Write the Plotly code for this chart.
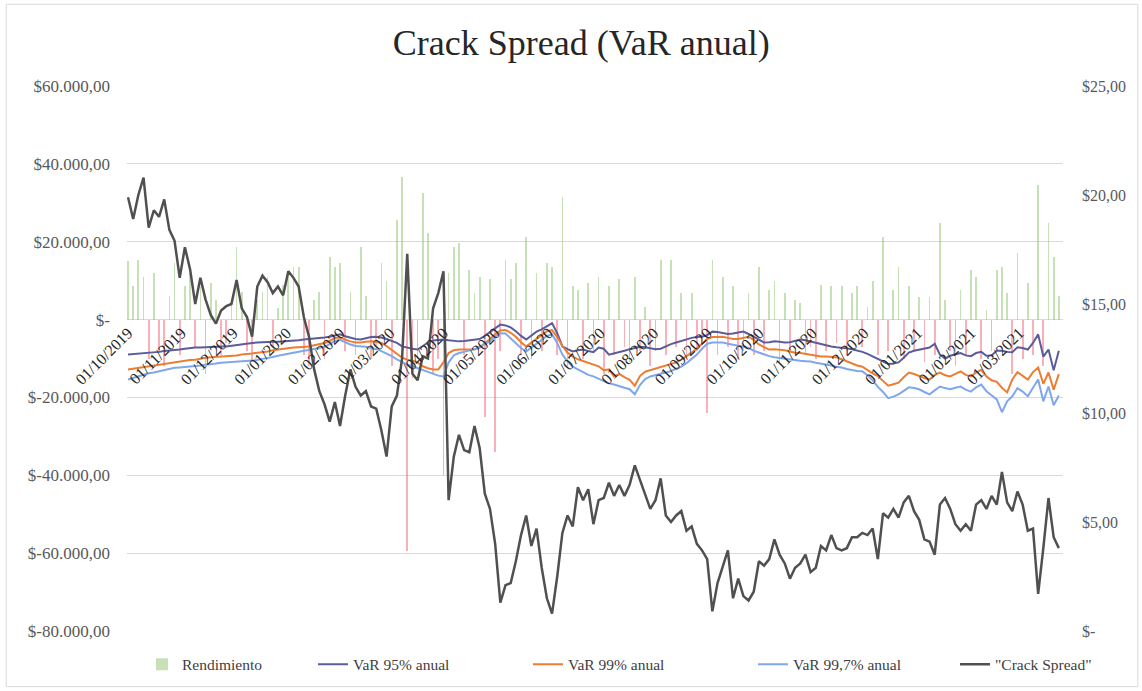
import pandas as pd
import plotly.graph_objects as go

# ---------------- data ----------------
start_date = "2019-10-01"
n_obs = 181
fechas = pd.date_range(start_date, periods=n_obs, freq="3D")

rendimiento = [
    15000, 8500, 15400, 11000, -10000, 12000, -8000, -12000, 6000, 14600,
    -9000, 8500, 12000, -7000, 8500, -14000, 9500, 5000, -9000, -6000,
    5000, 18700, 7000, -8000, -11000, 5000, 7000, 11000, -7000, 3000,
    9000, 12000, 13600, 13600, -9000, -12000, 5000, 7000, -10000, 16200,
    13600, 14600, -8000, 7000, -9000, 18700, 6000, -10000, -7000, 14600,
    10000, -12000, 25600, 36600, -59500, -15000, -10000, 32500, 22300, -14000,
    -10000, -40000, 12000, 18700, 19700, -9000, 12800, 6900, 11000, -25000,
    10300, -34000, -8000, 15400, 10300, 14600, -9000, 21300, -10000, 12000,
    -8000, 14600, 13600, -9000, 31500, -12000, 8500, 7700, -10000, 9400,
    -8000, 11000, -14000, 8500, -9000, 10300, -7000, -11000, 11000, -8000,
    3300, -12000, -8000, 15400, -9000, 15400, -7000, 6900, -10000, 6900,
    -8000, -6000, -24000, 15400, -9000, 11000, -7000, 8500, -10000, -8000,
    6900, -9000, 13600, -8000, 7700, 10000, -11000, 6900, -8000, 5100,
    4300, -9000, -7000, -10000, 9000, -8000, 8500, -6000, 8500, -9000,
    6900, 8500, -7000, 3300, 10000, -9000, 21300, -8000, 7700, 13600,
    -10000, 8500, -8000, 5900, -11000, 5900, -9000, 24800, 5100, -8000,
    -12000, 7700, -9000, 12800, 11000, -10000, 2500, -8000, 12800, 13600,
    6900, -14000, 17200, -10000, 9400, -9000, 34600, -12000, 24800, 16200,
    6000,
]

var95 = [
    -9000, -8900, -8800, -8700, -8500, -8400, -8300, -8100, -8000, -7800,
    -7700, -7500, -7300, -7200, -7200, -7100, -7000, -7000, -6900, -6900,
    -6700, -6500, -6300, -6200, -6000, -5900, -5800, -5800, -5700, -5700,
    -5600, -5600, -5500, -5300, -5100, -5000, -4900, -4700, -4600, -4400,
    -4000, -3800, -4300, -4700, -5000, -5100, -4800, -4500, -4400, -4600,
    -5000, -5500, -6000, -6900, -7300, -7500, -7700, -6800, -5900, -5400,
    -5200, -5100, -5300, -5500, -5600, -5500, -5300, -5100, -5000, -4200,
    -3200, -2200, -1300, -1500, -2000, -3000, -4200, -5100, -4000, -3100,
    -2500, -1800, -900, -3500, -6900, -7600, -8200, -7900, -7700, -8100,
    -8400, -7200, -7500, -9000, -8600, -8300, -8000, -7600, -7300, -7000,
    -7100, -7400, -7600, -7500, -6800, -6300, -5900, -5500, -5100, -4700,
    -4500, -4400, -4000, -3100, -3200, -3500, -3700, -3600, -3300, -3100,
    -3700, -4500, -5300, -5900, -5800, -5600, -5700, -5900, -5800, -5400,
    -5100, -5300, -5600, -5900, -6300, -6700, -6900, -7100, -7200, -7400,
    -7600, -7900, -8300, -8800, -9500, -10200, -10800, -11400, -11300, -11000,
    -9800, -8500, -8000, -7700, -7500, -7200, -6200, -9000, -10000, -9300,
    -8900, -8600, -9200, -9400, -8600, -8300, -9300, -9200, -8000, -8000,
    -8300, -8400, -7100, -7300, -7700, -6000, -3800, -9500, -7700, -13000,
    -8000,
]

var99 = [
    -12800, -12600, -12400, -12100, -11900, -11700, -11500, -11300, -11100, -10900,
    -10700, -10500, -10400, -10300, -10000, -9800, -9700, -9600, -9600, -9500,
    -9400, -9200, -9000, -8900, -8700, -8500, -8400, -8200, -7900, -7700,
    -7500, -7400, -7200, -7100, -7000, -6900, -6600, -6300, -6000, -5500,
    -4700, -4600, -5200, -5600, -5900, -5900, -5700, -5600, -5700, -6000,
    -6800, -7800, -9000, -9800, -10300, -10500, -11000, -12000, -12500, -12800,
    -12800, -11000, -8600, -7900, -7700, -7700, -7800, -7700, -7200, -6200,
    -5000, -3800, -2800, -2700, -3400, -4400, -5800, -6900, -6000, -5100,
    -4000, -3000, -2700, -4500, -6800, -8500, -9500, -10200, -10700, -11200,
    -11500, -12000, -13000, -12800, -14600, -14000, -14800, -15500, -17000, -14500,
    -13400, -13000, -12500, -12100, -11800, -11400, -11000, -10300, -9500, -8500,
    -7400, -6200, -5000, -4500, -4400, -4400, -4700, -5000, -5000, -4700,
    -4400, -5200, -6400, -7100, -7700, -7600, -7700, -7900, -8200, -8500,
    -8600, -8800, -9000, -9200, -9500, -9500, -9600, -9700, -10200, -10800,
    -11200, -11800, -12100, -13000, -13800, -14500, -15700, -17000, -16600, -16200,
    -14800, -13600, -14000, -14600, -15000, -15400, -14200, -13600, -14300, -14600,
    -13900, -13300, -14200, -14600, -13600, -12900, -14600, -15600, -16000, -17500,
    -18700, -15400, -13500, -14400, -15400, -13500, -12300, -16500, -13600, -18000,
    -14000,
]

var997 = [
    -15400, -15000, -14600, -14100, -13800, -13600, -13300, -13000, -12700, -12400,
    -12300, -12200, -12100, -12000, -11800, -11600, -11500, -11300, -11100, -11000,
    -10900, -10900, -10800, -10700, -10500, -10400, -10100, -9900, -9600, -9300,
    -9000, -8700, -8500, -8200, -8000, -7800, -7500, -7300, -7000, -6300,
    -5500, -5200, -5900, -6400, -6800, -6900, -7000, -7300, -7600, -8100,
    -8700, -9400, -10200, -11000, -11600, -12000, -12500, -13000, -13400, -14000,
    -14400, -14600, -11000, -9200, -8600, -8300, -8000, -7600, -7000, -6400,
    -5500, -4500, -3500, -3600, -4800, -6000, -7300, -8200, -7200, -6200,
    -5200, -4200, -3800, -6000, -9000, -10800, -12100, -12800, -13500, -14200,
    -14600, -15200, -15800, -16400, -16700, -17200, -17500, -17900, -19200, -16800,
    -15300, -14600, -14300, -14000, -13600, -13200, -12600, -12100, -11200, -10200,
    -9000, -7500, -6200, -5900, -5900, -5900, -6200, -6500, -6700, -6900,
    -7300, -8000, -8500, -9000, -9400, -9700, -9900, -10100, -10300, -10400,
    -10600, -10700, -10800, -11100, -11300, -11500, -11800, -12100, -12300, -12700,
    -13000, -13200, -13300, -14300, -15600, -17300, -18600, -20200, -19800, -19200,
    -18300, -17400, -17600, -17900, -18600, -19200, -18200, -17200, -17600, -17900,
    -17500, -17200, -18000, -18500, -17400, -16700, -18400, -19400, -20500, -23800,
    -21000, -19700, -17600, -18500, -19700, -17500, -15400, -21000, -17200, -22000,
    -19500,
]

crack_spread = [
    19.9, 18.9, 20.0, 20.8, 18.5, 19.3, 19.0, 19.8, 18.4, 17.9,
    16.2, 17.6, 16.6, 15.0, 16.2, 15.2, 14.5, 14.1, 14.7, 14.9,
    15.0, 16.1, 14.8, 14.4, 13.5, 15.8, 16.3, 16.0, 15.5, 15.8,
    15.4, 16.5, 16.2, 15.8, 14.4, 13.5, 12.0, 11.0, 10.4, 9.6,
    10.5, 9.4, 10.8, 12.0, 11.2, 10.8, 11.0, 10.3, 10.2, 9.2,
    8.0, 10.3, 10.8, 12.5, 17.3, 11.8, 11.5, 12.6, 12.5, 14.8,
    15.5, 16.5, 6.0, 8.0, 9.0, 8.3, 8.2, 9.4, 8.4, 6.3,
    5.6, 4.0, 1.3, 2.1, 2.2, 3.2, 4.4, 5.3, 3.9, 4.7,
    2.9, 1.5, 0.8, 2.5, 4.5, 5.3, 4.8, 6.6, 6.0, 6.5,
    4.9, 6.0, 6.1, 6.8, 6.2, 6.7, 6.2, 6.7, 7.6, 6.9,
    6.3, 5.6, 6.0, 7.0, 5.3, 5.0, 5.3, 5.5, 4.6, 4.8,
    4.0, 3.7, 3.3, 0.9, 2.2, 3.0, 3.7, 1.5, 2.4, 1.6,
    1.4, 1.8, 3.2, 3.0, 3.3, 4.2, 3.5, 3.1, 2.4, 2.9,
    3.1, 3.5, 2.7, 2.9, 3.9, 3.7, 4.4, 3.8, 3.7, 3.8,
    4.3, 4.3, 4.5, 4.4, 4.7, 3.3, 5.4, 5.2, 5.6, 5.2,
    5.9, 6.2, 5.5, 5.1, 4.2, 4.1, 3.5, 5.8, 6.1, 5.6,
    4.9, 4.6, 4.9, 4.6, 5.8, 6.0, 5.6, 6.2, 5.8, 7.3,
    5.9, 5.5, 6.4, 5.8, 4.6, 4.7, 1.7, 3.8, 6.1, 4.3,
    3.8,
]

for _name, _arr in [("rendimiento", rendimiento), ("var95", var95), ("var99", var99),
                    ("var997", var997), ("crack_spread", crack_spread)]:
    assert len(_arr) == n_obs, (_name, len(_arr))

y_tickvals = [-80000, -60000, -40000, -20000, 0, 20000, 40000, 60000]
y_ticktext = ["$-80.000,00", "$-60.000,00", "$-40.000,00", "$-20.000,00",
              "$-", "$20.000,00", "$40.000,00", "$60.000,00"]
y2_tickvals = [0, 5, 10, 15, 20, 25]
y2_ticktext = ["$-", "$5,00", "$10,00", "$15,00", "$20,00", "$25,00"]
x_tickvals = ["2019-10-01", "2019-11-01", "2019-12-01", "2020-01-01", "2020-02-01",
              "2020-03-01", "2020-04-01", "2020-05-01", "2020-06-01", "2020-07-01",
              "2020-08-01", "2020-09-01", "2020-10-01", "2020-11-01", "2020-12-01",
              "2021-01-01", "2021-02-01", "2021-03-01"]
x_ticktext = ["01/10/2019", "01/11/2019", "01/12/2019", "01/01/2020", "01/02/2020",
              "01/03/2020", "01/04/2020", "01/05/2020", "01/06/2020", "01/07/2020",
              "01/08/2020", "01/09/2020", "01/10/2020", "01/11/2020", "01/12/2020",
              "01/01/2021", "01/02/2021", "01/03/2021"]

# ---------------- styling ----------------
FONT = "Liberation Serif, Times New Roman, serif"
GREEN = "rgba(150,200,120,0.55)"
RED = "rgba(245,80,100,0.45)"
bar_colors = [GREEN if v >= 0 else RED for v in rendimiento]

fig = go.Figure()
fig.add_trace(go.Bar(
    x=fechas, y=rendimiento, name="Rendimiento",
    marker=dict(color=bar_colors, line=dict(width=0)),
    width=86400000 * 1.0, yaxis="y", legend="legend",
))
fig.add_trace(go.Scatter(x=fechas, y=var95, name="VaR 95% anual", mode="lines",
                         line=dict(color="#5a5c9c", width=2), yaxis="y", legend="legend2"))
fig.add_trace(go.Scatter(x=fechas, y=var99, name="VaR 99% anual", mode="lines",
                         line=dict(color="#ED7D31", width=2), yaxis="y", legend="legend3"))
fig.add_trace(go.Scatter(x=fechas, y=var997, name="VaR 99,7% anual", mode="lines",
                         line=dict(color="#7FA7EE", width=2), yaxis="y", legend="legend4"))
fig.add_trace(go.Scatter(x=fechas, y=crack_spread, name="\"Crack Spread\"", mode="lines",
                         line=dict(color="#505050", width=2.5), yaxis="y2", legend="legend5"))

y_min, y_max = -80000, 60000
zero_pos = (0 - y_min) / (y_max - y_min)

legend_font = dict(family=FONT, size=15.5, color="#404040")
legend_x = [0.016, 0.1987, 0.4284, 0.6688, 0.8846]
legend_common = dict(orientation="h", xanchor="left", y=-0.062, yanchor="middle",
                     font=legend_font, bgcolor="rgba(0,0,0,0)")

fig.update_layout(
    width=1142, height=691,
    margin=dict(l=127, r=79, t=86, b=60, autoexpand=False),
    paper_bgcolor="white", plot_bgcolor="white",
    font=dict(family=FONT, color="#595959", size=15),
    title=dict(text="Crack Spread (VaR anual)", x=0.509, xref="container", xanchor="center",
               y=0.938, yref="container", yanchor="middle",
               font=dict(family=FONT, size=36, color="#262626")),
    bargap=0,
    xaxis=dict(
        type="date",
        range=["2019-09-30 10:00", "2021-03-26 10:00"],
        tickmode="array", tickvals=x_tickvals, ticktext=x_ticktext,
        tickangle=-45, anchor="free", position=zero_pos,
        showgrid=False, showline=False, zeroline=False, ticks="",
        tickfont=dict(family=FONT, size=16, color="#262626"),
        automargin=False,
    ),
    yaxis=dict(
        range=[y_min, y_max], tickmode="array", tickvals=y_tickvals, ticktext=y_ticktext,
        showgrid=True, gridcolor="#d9d9d9", gridwidth=1.3, zeroline=False,
        ticks="", ticklabelstandoff=16, automargin=False,
        tickfont=dict(family=FONT, size=17, color="#595959"),
    ),
    yaxis2=dict(
        range=[0, 25], overlaying="y", side="right", anchor="x",
        tickmode="array", tickvals=y2_tickvals, ticktext=y2_ticktext,
        showgrid=False, zeroline=False, ticks="", ticklabelstandoff=18, automargin=False,
        tickfont=dict(family=FONT, size=16, color="#595959"),
    ),
    legend=dict(x=legend_x[0], **legend_common),
    legend2=dict(x=legend_x[1], **legend_common),
    legend3=dict(x=legend_x[2], **legend_common),
    legend4=dict(x=legend_x[3], **legend_common),
    legend5=dict(x=legend_x[4], **legend_common),
    showlegend=True,
    shapes=[dict(type="rect", xref="paper", yref="paper",
                 x0=-0.129, x1=1.08, y0=-0.102, y1=1.15,
                 line=dict(color="#d9d9d9", width=1), fillcolor="rgba(0,0,0,0)", layer="below")],
)

fig.write_html("out.html", config={"displayModeBar": False},
               post_script="document.body.style.margin='0';document.body.style.overflow='hidden';")
